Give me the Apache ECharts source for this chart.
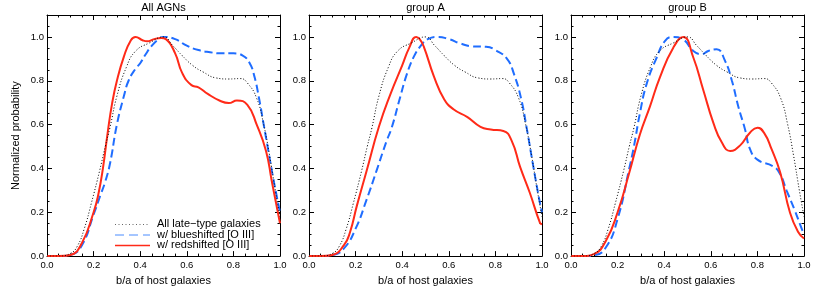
<!DOCTYPE html>
<html>
<head>
<meta charset="utf-8">
<script src="https://cdn.jsdelivr.net/npm/echarts@6/dist/echarts.min.js"></script>
<style>html,body{margin:0;padding:0;background:#fff;}#c{width:830px;height:291px;}</style>
</head>
<body>
<div id="c"></div>
<script>
// ---- data (b/a, normalized probability) ----
var panelTitles = ['All AGNs', 'group A', 'group B'];
var seriesNames = ['All late\u2212type galaxies', 'w/ blueshifted [O III]', 'w/ redshifted [O III]'];

var lateType = [[0,0],[0.05,0],[0.1,0.012],[0.13,0.045],[0.16,0.125],[0.19,0.24],[0.226,0.39],[0.25,0.5],[0.27,0.585],[0.3,0.73],[0.34,0.86],[0.38,0.935],[0.44,0.973],[0.5,1.0],[0.54,0.96],[0.58,0.915],[0.625,0.87],[0.67,0.84],[0.725,0.813],[0.78,0.808],[0.83,0.81],[0.86,0.79],[0.9,0.72],[0.93,0.6],[0.955,0.46],[0.98,0.3],[1.0,0.18]];

var blueAll = [[0,0],[0.05,0],[0.1,0.005],[0.15,0.05],[0.2,0.19],[0.23,0.28],[0.25,0.34],[0.27,0.42],[0.3,0.6],[0.33,0.73],[0.35,0.8],[0.38,0.855],[0.4,0.88],[0.42,0.915],[0.45,0.96],[0.48,0.99],[0.5,1.0],[0.55,0.99],[0.6,0.96],[0.65,0.94],[0.7,0.93],[0.75,0.925],[0.8,0.925],[0.84,0.915],[0.87,0.88],[0.89,0.82],[0.91,0.72],[0.93,0.6],[0.95,0.48],[0.97,0.36],[1.0,0.2]];
var redAll = [[0,0],[0.05,0],[0.1,0.005],[0.15,0.06],[0.2,0.2],[0.22,0.28],[0.24,0.4],[0.26,0.56],[0.28,0.7],[0.3,0.8],[0.33,0.91],[0.36,0.985],[0.38,1.0],[0.41,0.985],[0.43,0.98],[0.46,0.99],[0.49,0.995],[0.51,0.99],[0.55,0.925],[0.58,0.836],[0.62,0.78],[0.65,0.77],[0.69,0.74],[0.74,0.71],[0.78,0.698],[0.815,0.71],[0.86,0.69],[0.9,0.6],[0.94,0.48],[0.965,0.34],[1.0,0.15]];

var blueA = [[0,0],[0.05,0],[0.1,0.004],[0.15,0.035],[0.2,0.125],[0.248,0.26],[0.29,0.39],[0.333,0.525],[0.355,0.586],[0.39,0.72],[0.42,0.83],[0.45,0.91],[0.48,0.96],[0.51,0.99],[0.55,1.0],[0.6,0.99],[0.65,0.97],[0.7,0.957],[0.76,0.955],[0.8,0.94],[0.85,0.9],[0.88,0.83],[0.91,0.72],[0.934,0.586],[0.963,0.407],[0.991,0.243],[1.0,0.2]];
var redA = [[0,0],[0.05,0],[0.1,0.005],[0.15,0.05],[0.176,0.109],[0.205,0.228],[0.248,0.392],[0.3,0.59],[0.35,0.74],[0.4,0.87],[0.43,0.95],[0.46,1.0],[0.475,0.99],[0.493,0.955],[0.536,0.82],[0.58,0.716],[0.62,0.67],[0.68,0.634],[0.736,0.59],[0.78,0.578],[0.834,0.571],[0.87,0.526],[0.906,0.407],[0.948,0.288],[0.991,0.153],[1.0,0.145]];

var blueB = [[0,0],[0.05,0],[0.1,0.004],[0.15,0.04],[0.2,0.17],[0.25,0.4],[0.27,0.5],[0.296,0.653],[0.325,0.787],[0.368,0.906],[0.403,0.981],[0.439,1.0],[0.482,0.988],[0.525,0.936],[0.561,0.921],[0.589,0.936],[0.625,0.944],[0.661,0.891],[0.69,0.802],[0.718,0.683],[0.747,0.578],[0.768,0.489],[0.8,0.44],[0.867,0.41],[0.896,0.377],[0.925,0.3],[0.96,0.21],[0.99,0.125],[1.0,0.1]];
var redB = [[0,0],[0.05,0],[0.1,0.01],[0.15,0.07],[0.2,0.2],[0.25,0.38],[0.296,0.556],[0.339,0.683],[0.382,0.817],[0.439,0.951],[0.482,1.0],[0.525,0.906],[0.568,0.757],[0.611,0.608],[0.647,0.519],[0.683,0.48],[0.725,0.504],[0.768,0.563],[0.8,0.586],[0.83,0.56],[0.86,0.49],[0.897,0.385],[0.94,0.198],[0.975,0.11],[1.0,0.08]];

var panelData = [
  [lateType, blueAll, redAll],
  [lateType, blueA, redA],
  [lateType, blueB, redB]
];

// ---- styling / layout ----
var gridLefts = [47, 309, 571];
var gridW = 233;
var styles = [
  {color:'#000000', width:1, type:[1,2]},
  {color:'#1f6dff', width:2, type:[8,4]},
  {color:'#ff2a18', width:2, type:'solid'}
];
var legendStyles = [
  {color:'#666666', width:1, dash:[1,2.5]},
  {color:'#4a8cff', width:1, dash:[9,5]},
  {color:'#ff2a18', width:1.3, dash:null}
];
var FONT = 'Liberation Sans, Arial, Helvetica, sans-serif';

var chart = echarts.init(document.getElementById('c'), null, {renderer:'canvas'});
var grids = [], xAxes = [], yAxes = [], series = [], graphics = [];
function fmt(v){ return v.toFixed(1); }
for (var p = 0; p < 3; p++) {
  grids.push({left: gridLefts[p], top: 15, width: gridW, height: 246, show:false});
  var common = {
    gridIndex: p, type:'value',
    axisLine:{show:true, onZero:false, lineStyle:{color:'#000', width:1}},
    axisTick:{show:true, inside:true, length:5, lineStyle:{color:'#000', width:1}},
    minorTick:{show:true, splitNumber:4, length:2.5, lineStyle:{color:'#000', width:1}},
    splitLine:{show:false}, minorSplitLine:{show:false}
  };
  xAxes.push(Object.assign({}, common, {
    position:'bottom', min:0, max:1, interval:0.2,
    axisLabel:{show:true, formatter: fmt, fontSize:9.5, color:'#000', fontFamily:FONT, margin:4},
    name:'b/a of host galaxies', nameLocation:'middle', nameGap:14,
    nameTextStyle:{fontSize:11, color:'#000', fontFamily:FONT}
  }));
  xAxes.push(Object.assign({}, common, {
    position:'top', min:0, max:1, interval:0.2, axisLabel:{show:false}
  }));
  var yl = Object.assign({}, common, {
    position:'left', min:0, max:1.1, interval:0.2,
    axisLabel:{show:true, formatter: fmt, fontSize:9.5, color:'#000', fontFamily:FONT, margin:3,
      showMaxLabel:false}
  });
  if (p === 0) {
    yl.name = 'Normalized probability';
    yl.nameLocation = 'middle';
    yl.nameGap = 26;
    yl.nameTextStyle = {fontSize:11, color:'#000', fontFamily:FONT};
  }
  yAxes.push(yl);
  yAxes.push(Object.assign({}, common, {
    position:'right', min:0, max:1.1, interval:0.2, axisLabel:{show:false}
  }));
  for (var s = 0; s < 3; s++) {
    series.push({
      type:'line', name: seriesNames[s], xAxisIndex: 2*p, yAxisIndex: 2*p,
      data: panelData[p][s], smooth: 0.5, symbol:'none', clip:true,
      lineStyle:{color: styles[s].color, width: styles[s].width, type: styles[s].type},
      itemStyle:{color: styles[s].color},
      z: 3 + (s === 0 ? 2 : 0),
      silent:true, animation:false
    });
  }
  graphics.push({
    type:'text', x: gridLefts[p] + gridW/2, y: 8,
    style:{text: panelTitles[p], fill:'#000', font: '11px ' + FONT, textAlign:'center', textVerticalAlign:'middle'}
  });
}

// legend (drawn as graphic lines + text, inside panel 1)
var legendRowY = [224, 234.5, 245];
for (var i = 0; i < 3; i++) {
  var ls = {stroke: legendStyles[i].color, lineWidth: legendStyles[i].width};
  if (legendStyles[i].dash) ls.lineDash = legendStyles[i].dash;
  graphics.push({
    type:'line', shape:{x1:115, y1:legendRowY[i] + 0.5, x2:150, y2:legendRowY[i] + 0.5},
    style: ls, silent:true
  });
  graphics.push({
    type:'text', x:157, y:legendRowY[i],
    style:{text: seriesNames[i], fill:'#000', font:'11px ' + FONT, textAlign:'left', textVerticalAlign:'middle'}
  });
}

chart.setOption({
  animation:false,
  backgroundColor:'#fff',
  grid: grids, xAxis: xAxes, yAxis: yAxes, series: series,
  graphic: graphics
});
</script>
</body>
</html>
